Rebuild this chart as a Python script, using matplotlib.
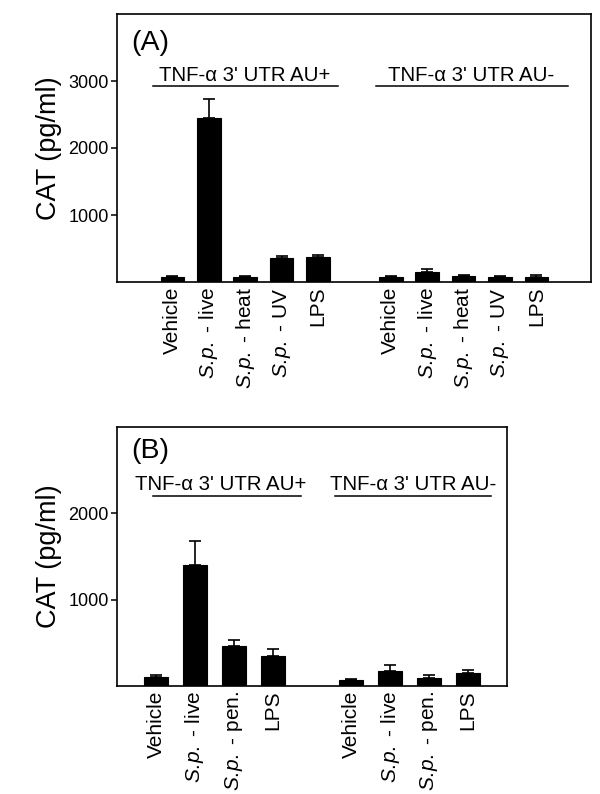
import matplotlib
matplotlib.use("Agg")
import matplotlib.pyplot as plt
import numpy as np

plt.rcParams['font.family'] = ['Liberation Sans', 'DejaVu Sans']
plt.rcParams['mathtext.fontset'] = 'custom'
plt.rcParams['mathtext.it'] = 'Liberation Sans:italic'
plt.rcParams['mathtext.rm'] = 'Liberation Sans'

# ---- Data ----
labels_a = ['Vehicle', r'$\mathit{S.\!p.}$ - live', r'$\mathit{S.\!p.}$ - heat',
            r'$\mathit{S.\!p.}$ - UV', 'LPS']
au_plus_a = [75, 2455, 75, 355, 370]
au_plus_a_err = [10, 275, 8, 40, 40]
au_minus_a = [80, 150, 90, 70, 80]
au_minus_a_err = [10, 50, 20, 15, 30]

labels_b = ['Vehicle', r'$\mathit{S.\!p.}$ - live', r'$\mathit{S.\!p.}$ - pen.', 'LPS']
au_plus_b = [101, 1407, 465, 349]
au_plus_b_err = [30, 270, 66, 81]
au_minus_b = [70, 174, 97, 147]
au_minus_b_err = [15, 70, 27, 35]

group_names = ["TNF-α 3' UTR AU+", "TNF-α 3' UTR AU-"]

W, H = 600, 794
fig = plt.figure(figsize=(6, 7.94), dpi=100)


def px_axes(l, t, r, b):
    return fig.add_axes([l / W, 1 - b / H, (r - l) / W, (b - t) / H])


def draw_panel(ax, labels, plus, plus_err, minus, minus_err, ylim, yticks,
               width, xlim, letter, letter_pos, label_x, lines, texts, line_y, text_y):
    n = len(labels)
    x_plus = np.arange(n)
    x_minus = np.arange(n) + n + 1
    xs = np.concatenate([x_plus, x_minus])
    vals = list(plus) + list(minus)
    errs = list(plus_err) + list(minus_err)
    ax.bar(xs, vals, width=width, color='black', edgecolor='black', linewidth=0.8, zorder=2)
    ax.errorbar(xs, vals, yerr=[np.zeros(len(vals)), errs], fmt='none',
                ecolor='black', elinewidth=1.2, capsize=4.2, capthick=1.2, zorder=1)
    ax.set_xlim(*xlim)
    ax.set_ylim(*ylim)
    ax.set_yticks(yticks)
    ax.set_yticklabels([str(v) for v in yticks], fontsize=13)
    ax.set_xticks(xs)
    ax.set_xticklabels(list(labels) + list(labels), rotation=90, fontsize=15,
                       ha='center', va='top')
    ax.tick_params(axis='x', length=0, pad=3.5)
    ax.tick_params(axis='y', direction='out', length=4.5, width=1.1, pad=1.5)
    for s in ax.spines.values():
        s.set_linewidth(1.2)
    ax.set_ylabel('CAT (pg/ml)', fontsize=19.5)
    ax.yaxis.set_label_coords(label_x, 0.5)
    ax.text(letter_pos[0], letter_pos[1], letter, transform=ax.transAxes,
            fontsize=20.5, ha='left', va='baseline')
    tr = ax.get_xaxis_transform()
    for (x0, x1), xc, name in zip(lines, texts, group_names):
        ax.plot([x0, x1], [line_y, line_y], color='black', lw=1.1,
                transform=tr, clip_on=False)
        ax.text(xc, text_y, name, transform=tr, fontsize=14.7,
                ha='center', va='baseline')


ax_a = px_axes(117, 14, 591, 282)
draw_panel(ax_a, labels_a, au_plus_a, au_plus_a_err, au_minus_a, au_minus_a_err,
           ylim=(0, 4000), yticks=[1000, 2000, 3000], width=0.65, xlim=(-1.52, 11.5),
           letter='(A)', letter_pos=(0.03, 0.866), label_x=-0.116,
           lines=[(-0.52, 4.55), (5.6, 10.86)], texts=[1.99, 8.22],
           line_y=0.731, text_y=0.75)

ax_b = px_axes(117, 427, 507, 686)
draw_panel(ax_b, labels_b, au_plus_b, au_plus_b_err, au_minus_b, au_minus_b_err,
           ylim=(0, 3000), yticks=[1000, 2000], width=0.61, xlim=(-1.0, 9.0),
           letter='(B)', letter_pos=(0.036, 0.881), label_x=-0.141,
           lines=[(-0.07, 3.71), (4.58, 8.58)], texts=[1.66, 6.6],
           line_y=0.732, text_y=0.758)

fig.savefig('out.png', dpi=100)
